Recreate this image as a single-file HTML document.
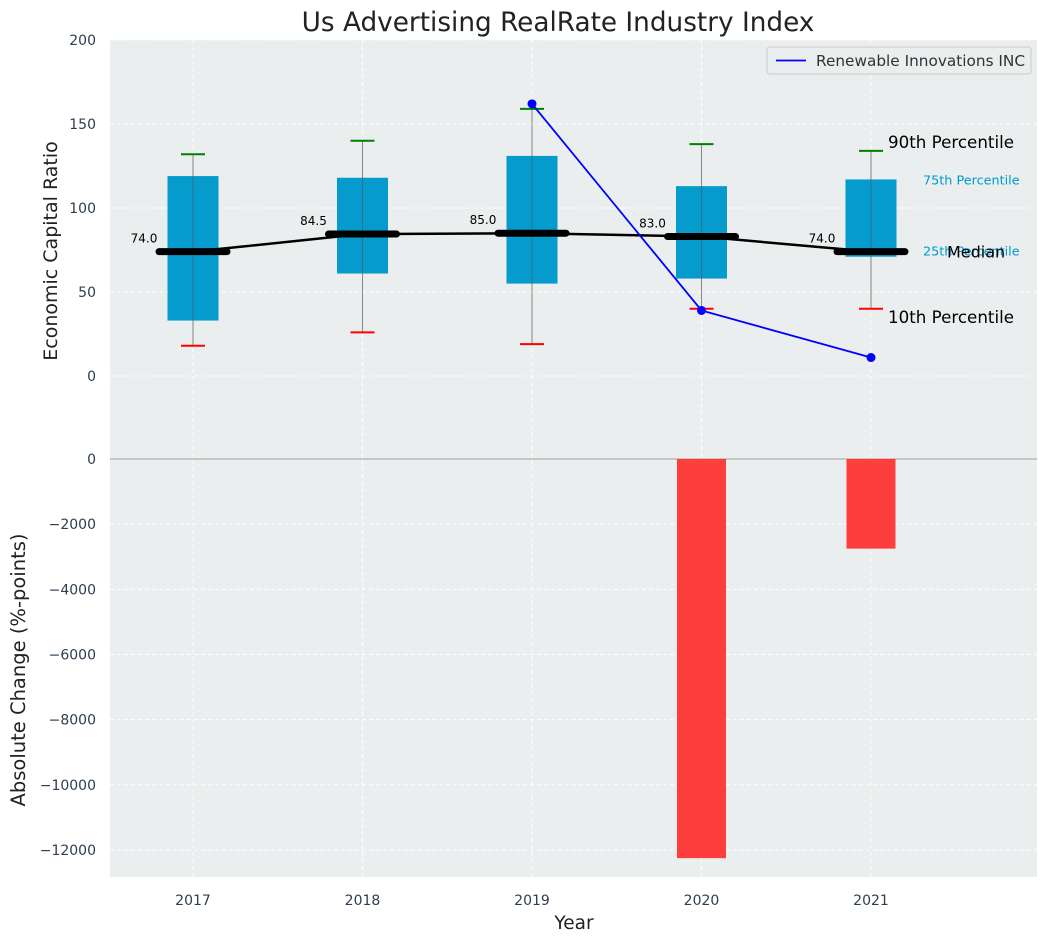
<!DOCTYPE html>
<html><head><meta charset="utf-8"><style>
body{margin:0;background:#fff;font-family:"DejaVu Sans","Liberation Sans",sans-serif}
svg text{font-family:"DejaVu Sans","Liberation Sans",sans-serif}
</style></head><body>
<svg id="c" width="1048" height="942" xmlns="http://www.w3.org/2000/svg"></svg>
<script>
const years=[2017,2018,2019,2020,2021];
const p10=[18,26,19,40,40];
const p25=[33,61,55,58,71];
const medians=[74,84.5,85,83,74];
const p75=[119,118,131,113,117];
const p90=[132,140,159,138,134];
const companyYears=[2019,2020,2021];
const companyValues=[162,39,11];
const changeYears=[2020,2021];
const changeValues=[-12250,-2750];
const topTicks=[0,50,100,150,200];
const botTicks=[0,-2000,-4000,-6000,-8000,-10000,-12000];

const L=110,R=1037,T1=40,B1=459,T2=459,B2=877;
const xs=v=>193+(v-2017)*169.5;
const ys=v=>376-v*1.68;
const yb=v=>459-v*(391/12000);
const svg=document.getElementById('c');
const NS='http://www.w3.org/2000/svg';
function el(tag,attrs,txt){const e=document.createElementNS(NS,tag);for(const k in attrs)e.setAttribute(k,attrs[k]);if(txt!=null)e.textContent=txt;svg.appendChild(e);return e;}

let e;
e=el('rect',{x:L,y:T1,width:R-L,height:B1-T1,fill:'#eaeeee'});


e=el('rect',{x:L,y:T2,width:R-L,height:B2-T2,fill:'#eaeeee'});


years.forEach(y=>{
 e=el('line',{x1:xs(y),x2:xs(y),y1:T1,y2:B2,stroke:'#fff','stroke-dasharray':'4,3','stroke-width':1});
 
 
 e=el('text',{x:xs(y),y:905,'text-anchor':'middle','font-size':14,fill:'#2e3e50'},y);
 
 
});
topTicks.forEach(t=>{
 e=el('line',{x1:L,x2:R,y1:ys(t),y2:ys(t),stroke:'#fff','stroke-dasharray':'4,3'});
 
 
 e=el('text',{x:96,y:ys(t)+5,'text-anchor':'end','font-size':14,fill:'#2e3e50'},t);
 
 
});
botTicks.forEach(t=>{
 if(t!==0){e=el('line',{x1:L,x2:R,y1:yb(t),y2:yb(t),stroke:'#fff','stroke-dasharray':'4,3'});
 
 }
 e=el('text',{x:96,y:yb(t)+5,'text-anchor':'end','font-size':14,fill:'#2e3e50'},t<0?'\u2212'+(-t):t);
 
 
});
e=el('line',{x1:L,x2:R,y1:459,y2:459,stroke:'#b0b0b0','stroke-width':1.2});


years.forEach((y,i)=>{
 const x=xs(y);
 e=el('line',{x1:x,x2:x,y1:ys(p90[i]),y2:ys(p10[i]),stroke:'#888','stroke-width':1});
 
 
 e=el('rect',{x:x-25.5,y:ys(p75[i]),width:51,height:ys(p25[i])-ys(p75[i]),fill:'#0099cc','fill-opacity':0.98});
 
 
 e=el('line',{x1:x,x2:x,y1:ys(p75[i]),y2:ys(p25[i]),stroke:'#555','stroke-opacity':0.6});
 
 
 e=el('line',{x1:x-12,x2:x+12,y1:ys(p90[i]),y2:ys(p90[i]),stroke:'green','stroke-width':2});
 
 
 e=el('line',{x1:x-12,x2:x+12,y1:ys(p10[i]),y2:ys(p10[i]),stroke:'red','stroke-width':2});
 
 
});
e=el('polyline',{points:years.map((y,i)=>xs(y)+','+ys(medians[i])).join(' '),fill:'none',stroke:'#000','stroke-width':2.5});


years.forEach((y,i)=>{
 e=el('line',{x1:xs(y)-34,x2:xs(y)+34,y1:ys(medians[i]),y2:ys(medians[i]),stroke:'#000','stroke-width':7,'stroke-linecap':'round'});
 
 
 e=el('text',{x:xs(y)-49,y:ys(medians[i])-9,'text-anchor':'middle','font-size':12,fill:'#000'},medians[i].toFixed(1));
 
 
});
e=el('polyline',{points:companyYears.map((y,i)=>xs(y)+','+ys(companyValues[i])).join(' '),fill:'none',stroke:'blue','stroke-width':1.8});


companyYears.forEach((y,i)=>{
 e=el('circle',{cx:xs(y),cy:ys(companyValues[i]),r:4.5,fill:'blue'});
 
 
});
changeYears.forEach((y,i)=>{
 e=el('rect',{x:xs(y)-24.5,y:yb(0),width:49,height:yb(changeValues[i])-yb(0),fill:'#ff3333','fill-opacity':0.95});
 
 
});
const x21=xs(2021);
[['90th Percentile',x21+17,ys(p90[4])-3,16.7,'#000'],['75th Percentile',923,ys(p75[4])+5,12.8,'#0099cc'],['25th Percentile',923,ys(p25[4])-1,12.8,'#0099cc'],['Median',947,ys(medians[4])+6,16,'#000'],['10th Percentile',x21+17,ys(p10[4])+14,16.7,'#000']].forEach(a=>{
 e=el('text',{x:a[1],y:a[2],'font-size':a[3],fill:a[4]},a[0]);
 
 
});
e=el('rect',{x:767,y:47,width:264,height:27,rx:3,fill:'#eaeeee',stroke:'#ccc'});


e=el('line',{x1:776,x2:806,y1:60.5,y2:60.5,stroke:'blue','stroke-width':1.8});


e=el('text',{x:816,y:66,'font-size':15.3,fill:'#333'},'Renewable Innovations INC');


e=el('text',{x:558,y:31,'text-anchor':'middle','font-size':26.3,fill:'#222'},'Us Advertising RealRate Industry Index');


e=el('text',{x:574,y:929,'text-anchor':'middle','font-size':18.5,fill:'#222'},'Year');


e=el('text',{x:0,y:0,'text-anchor':'middle','font-size':19,fill:'#222',transform:'translate(57,251) rotate(-90)'},'Economic Capital Ratio');


e=el('text',{x:0,y:0,'text-anchor':'middle','font-size':19.5,fill:'#222',transform:'translate(25,670) rotate(-90)'},'Absolute Change (%-points)');


</script>
</body></html>
